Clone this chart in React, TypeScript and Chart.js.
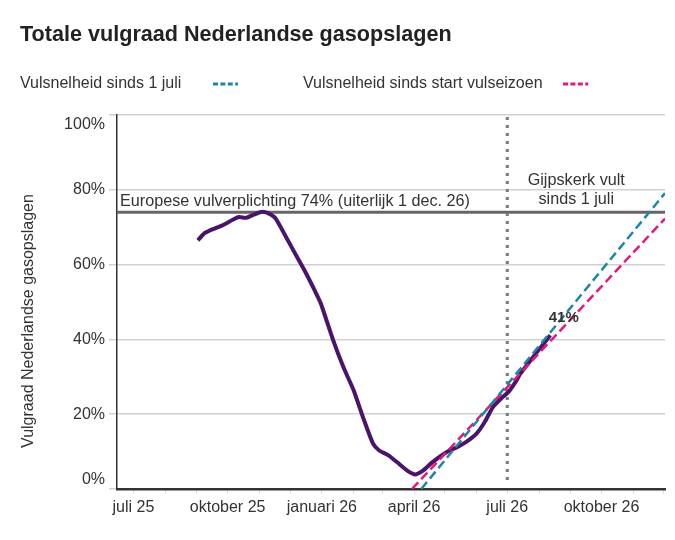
import { useEffect, useRef } from "react"
import { Chart, registerables } from "chart.js"

Chart.register(...registerables)

const FONT = "'Liberation Sans', Arial, Helvetica, sans-serif"
const DAY = 86400000
const day = (s: string) => Date.parse(s + "T00:00:00Z") / DAY

// gemeten vulgraad (%)
const fillDates = [
  "2025-09-02", "2025-09-08", "2025-09-16", "2025-09-26", "2025-10-06", "2025-10-12",
  "2025-10-19", "2025-10-27", "2025-11-04", "2025-11-12", "2025-11-17", "2025-11-27",
  "2025-12-05", "2025-12-15", "2025-12-25", "2025-12-31", "2026-01-12", "2026-01-22",
  "2026-02-01", "2026-02-10", "2026-02-20", "2026-02-26", "2026-03-07", "2026-03-17",
  "2026-03-25", "2026-04-02", "2026-04-10", "2026-04-19", "2026-05-03", "2026-05-13",
  "2026-05-22", "2026-06-01", "2026-06-09", "2026-06-17", "2026-06-25", "2026-07-02",
  "2026-07-09", "2026-07-14", "2026-07-30", "2026-08-12",
]
const fillValues = [
  66.5, 68.3, 69.4, 70.5, 72.0, 72.7,
  72.5, 73.4, 74.1, 73.4, 72.3, 67.4,
  63.4, 58.5, 53.1, 49.6, 39.8, 32.6,
  26.4, 19.3, 12.1, 10.3, 9.0, 6.8,
  5.0, 3.9, 5.0, 7.2, 9.9, 11.2,
  12.6, 14.8, 17.9, 21.9, 24.2, 25.9,
  28.6, 30.9, 36.6, 41.1,
]

// trendlijnen
const sinceJulyDates = ["2026-04-08", "2026-12-02"]
const sinceJulyValues = [0, 79.1]
const sinceSeasonDates = ["2026-03-30", "2026-12-02"]
const sinceSeasonValues = [0, 72.3]

const yTicks = [0, 20, 40, 60, 80, 100]
const monthNames = [
  "januari", "februari", "maart", "april", "mei", "juni",
  "juli", "augustus", "september", "oktober", "november", "december",
]
const xStart = "2025-06-15"
const xEnd = "2026-12-02"
const obligation = 74
const obligationLabel = "Europese vulverplichting 74% (uiterlijk 1 dec. 26)"
const markerDate = "2026-07-01"
const markerLabel = ["Gijpskerk vult", "sinds 1 juli"]

const PURPLE = "#4b146b"
const TEAL = "#1b87a5"
const PINK = "#e4187c"
const TEXT = "#333333"

const toPoints = (dates: string[], values: number[]) =>
  dates.map((d, i) => ({ x: day(d), y: values[i] }))

const monthTicks = () => {
  const out: { value: number }[] = []
  for (let y = 2025, m = 6; y < 2027; m++) {
    if (m > 11) { m = 0; y++ }
    const v = Date.UTC(y, m, 1) / DAY
    if (v > day(xEnd)) break
    out.push({ value: v })
  }
  return out
}

const overlay = {
  id: "overlay",
  beforeDatasetsDraw(chart: any) {
    const { ctx, chartArea: a, scales } = chart
    const x = scales.x
    const y = scales.y
    ctx.save()

    // vulverplichting
    const yo = y.getPixelForValue(obligation)
    ctx.strokeStyle = "#666"
    ctx.lineWidth = 3
    ctx.beginPath()
    ctx.moveTo(a.left, yo)
    ctx.lineTo(a.right, yo)
    ctx.stroke()

    // 1 juli
    const xm = x.getPixelForValue(day(markerDate))
    ctx.strokeStyle = "#7a7a7a"
    ctx.lineWidth = 3
    ctx.setLineDash([3, 5])
    ctx.beginPath()
    ctx.moveTo(xm, a.top + 2)
    ctx.lineTo(xm, a.bottom - 6)
    ctx.stroke()
    ctx.setLineDash([])

    ctx.fillStyle = TEXT
    ctx.font = `16.2px ${FONT}`
    ctx.textBaseline = "alphabetic"
    ctx.textAlign = "left"
    ctx.fillText(obligationLabel, a.left + 3, yo - 6.5)
    ctx.textAlign = "center"
    ctx.fillText(markerLabel[0], xm + 69, yo - 27)
    ctx.fillText(markerLabel[1], xm + 69, yo - 8)

    ctx.restore()
  },
  afterDatasetsDraw(chart: any) {
    const { ctx, chartArea: a, scales } = chart
    const y = scales.y
    ctx.save()
    ctx.fillStyle = TEXT

    // y labels
    ctx.font = `16px ${FONT}`
    ctx.textAlign = "right"
    ctx.textBaseline = "middle"
    yTicks.forEach((t, i) => {
      let py = y.getPixelForValue(t)
      if (i === yTicks.length - 1) py += 10
      if (i === 0) py -= 9.5
      ctx.fillText(t + "%", a.left - 12, py)
    })

    // y titel
    ctx.save()
    ctx.translate(29, 321)
    ctx.rotate(-Math.PI / 2)
    ctx.textAlign = "center"
    ctx.fillText("Vulgraad Nederlandse gasopslagen", 0, 0)
    ctx.restore()

    // laatste waarde
    const meta = chart.getDatasetMeta(2)
    const last = meta.data[meta.data.length - 1]
    ctx.font = `bold 15px ${FONT}`
    ctx.textAlign = "center"
    ctx.fillText(Math.round(fillValues[fillValues.length - 1]) + "%", last.x + 13.5, last.y - 17)

    // titel
    ctx.fillStyle = "#222"
    ctx.font = `bold 21.6px ${FONT}`
    ctx.textAlign = "left"
    ctx.textBaseline = "alphabetic"
    ctx.fillText("Totale vulgraad Nederlandse gasopslagen", 20, 40.5)

    // legenda
    ctx.fillStyle = TEXT
    ctx.font = `16px ${FONT}`
    ctx.textBaseline = "middle"
    ctx.fillText("Vulsnelheid sinds 1 juli", 20, 84)
    ctx.fillText("Vulsnelheid sinds start vulseizoen", 303, 84)
    ctx.lineWidth = 3
    ctx.setLineDash([5, 2.4])
    ctx.strokeStyle = TEAL
    ctx.beginPath()
    ctx.moveTo(213, 84)
    ctx.lineTo(238, 84)
    ctx.stroke()
    ctx.strokeStyle = PINK
    ctx.beginPath()
    ctx.moveTo(563, 84)
    ctx.lineTo(588, 84)
    ctx.stroke()

    ctx.restore()
  },
}

export default function App() {
  const chartRef = useRef<HTMLCanvasElement>(null)
  const chartInstance = useRef<Chart | null>(null)

  useEffect(() => {
    document.body.style.margin = "0"
    if (!chartRef.current) return
    if (chartInstance.current) chartInstance.current.destroy()

    chartInstance.current = new Chart(chartRef.current, {
      type: "line",
      data: {
        datasets: [
          {
            label: "Vulsnelheid sinds 1 juli",
            data: toPoints(sinceJulyDates, sinceJulyValues),
            borderColor: TEAL,
            borderWidth: 2.5,
            borderDash: [9, 4.5],
            pointRadius: 0,
          },
          {
            label: "Vulsnelheid sinds start vulseizoen",
            data: toPoints(sinceSeasonDates, sinceSeasonValues),
            borderColor: PINK,
            borderWidth: 2.5,
            borderDash: [9, 4.5],
            pointRadius: 0,
          },
          {
            label: "Vulgraad",
            data: toPoints(fillDates, fillValues),
            borderColor: PURPLE,
            borderWidth: 4,
            pointRadius: 0,
            tension: 0.2,
          },
        ],
      },
      options: {
        responsive: false,
        animation: false,
        layout: { padding: { top: 115, right: 10, left: 0, bottom: 0 } },
        plugins: {
          legend: { display: false },
          tooltip: { enabled: false },
          title: { display: false },
        },
        scales: {
          x: {
            type: "linear",
            min: day(xStart),
            max: day(xEnd),
            afterBuildTicks: (scale: any) => {
              scale.ticks = monthTicks()
            },
            afterFit: (scale: any) => {
              scale.height = 51
            },
            grid: {
              drawOnChartArea: false,
              drawTicks: true,
              tickLength: 5,
              color: "#dddddd",
            },
            border: { color: "#333", width: 2.5 },
            ticks: {
              autoSkip: false,
              maxRotation: 0,
              padding: 4,
              color: TEXT,
              font: { family: FONT, size: 16 },
              callback: (value: any) => {
                const d = new Date(Number(value) * DAY)
                const m = d.getUTCMonth()
                if (m % 3 !== 0) return ""
                return `${monthNames[m]} ${String(d.getUTCFullYear()).slice(2)}`
              },
            },
          },
          y: {
            min: 0,
            max: 100,
            afterBuildTicks: (scale: any) => {
              scale.ticks = yTicks.map((v) => ({ value: v }))
            },
            afterFit: (scale: any) => {
              scale.width = 117
            },
            grid: {
              color: "#d2d2d2",
              lineWidth: 1.5,
              tickLength: 8,
            },
            border: { color: "#333", width: 1.5 },
            ticks: {
              color: "rgba(0,0,0,0)",
              font: { family: FONT, size: 16 },
            },
          },
        },
      },
      plugins: [overlay],
    })

    return () => {
      if (chartInstance.current) {
        chartInstance.current.destroy()
        chartInstance.current = null
      }
    }
  }, [])

  return (
    <div style={{ width: 675, height: 540, background: "#fff" }}>
      <canvas ref={chartRef} width={675} height={540}></canvas>
    </div>
  )
}
